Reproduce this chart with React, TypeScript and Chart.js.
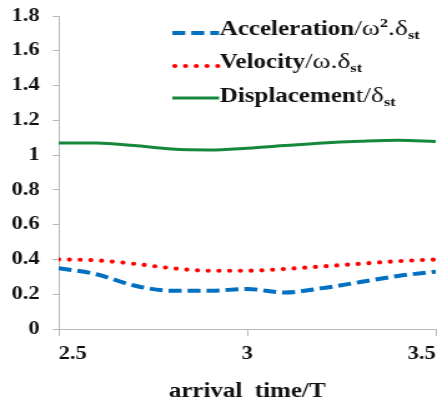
import React, { useEffect, useRef } from "react";
import { Chart, registerables } from "chart.js";

Chart.register(...registerables);

const arrivalTime = [2.5, 2.6, 2.7, 2.8, 2.9, 3.0, 3.1, 3.2, 3.3, 3.4, 3.5];
const acceleration = [0.35, 0.315, 0.25, 0.22, 0.22, 0.23, 0.21, 0.235, 0.27, 0.305, 0.33];
const velocity = [0.4, 0.395, 0.375, 0.35, 0.335, 0.335, 0.345, 0.36, 0.375, 0.39, 0.4];
const displacement = [1.07, 1.07, 1.055, 1.035, 1.03, 1.04, 1.055, 1.07, 1.08, 1.086, 1.078];

const BLUE = "#0070C0";
const RED = "#FF0000";
const GREEN = "#16883C";
const AXIS = "#B8B8B8";
const SERIF = "Liberation Serif";

// canvas is drawn narrower and displayed stretched horizontally, like the reference image
const CANVAS_W = 350;
const CANVAS_H = 406;
const VIEW_W = 437;

type Seg = { t: string; bold: boolean; size: number; dy: number };

const legendItems: { color: string; dash: number[]; cap: CanvasLineCap; width: number; segs: Seg[] }[] = [
  {
    color: BLUE, dash: [10.4, 4.8], cap: "butt", width: 4,
    segs: [
      { t: "Acceleration", bold: true, size: 20, dy: 0 },
      { t: "/ω", bold: false, size: 22, dy: 0 },
      { t: "2", bold: true, size: 13, dy: -8 },
      { t: ".δ", bold: false, size: 22, dy: 0 },
      { t: "st", bold: true, size: 13, dy: 4 },
    ],
  },
  {
    color: RED, dash: [0, 8.6], cap: "round", width: 4.2,
    segs: [
      { t: "Velocity", bold: true, size: 20, dy: 0 },
      { t: "/ω.δ", bold: false, size: 22, dy: 0 },
      { t: "st", bold: true, size: 13, dy: 4 },
    ],
  },
  {
    color: GREEN, dash: [], cap: "butt", width: 3,
    segs: [
      { t: "Displacemen", bold: true, size: 20, dy: 0 },
      { t: "t/δ", bold: false, size: 22, dy: 0 },
      { t: "st", bold: true, size: 13, dy: 4 },
    ],
  },
];

const legendPlugin = {
  id: "mathLegend",
  afterDraw(chart: any) {
    const ctx = chart.ctx as CanvasRenderingContext2D;
    const lineY = [33, 66, 98];
    const baseY = [35, 68, 102];
    legendItems.forEach((it, i) => {
      ctx.save();
      ctx.strokeStyle = it.color;
      ctx.lineWidth = it.width;
      ctx.lineCap = it.cap;
      ctx.setLineDash(it.dash);
      ctx.beginPath();
      ctx.moveTo(it.cap === "round" ? 140 : 138, lineY[i]);
      ctx.lineTo(175.5, lineY[i]);
      ctx.stroke();
      ctx.restore();
      ctx.save();
      ctx.fillStyle = "#111";
      ctx.textBaseline = "alphabetic";
      ctx.textAlign = "left";
      let x = 176;
      it.segs.forEach((s) => {
        ctx.font = `${s.bold ? "bold " : ""}${s.size}px ${SERIF}`;
        ctx.fillText(s.t, x, baseY[i] + s.dy);
        x += ctx.measureText(s.t).width;
      });
      ctx.restore();
    });
  },
};

const fmt = (v: any) => String(Number(Number(v).toFixed(1)));

export default function App() {
  const ref = useRef<HTMLCanvasElement | null>(null);
  useEffect(() => {
    if (!ref.current) return;
    const toPts = (ys: number[]) => ys.map((y, i) => ({ x: arrivalTime[i], y }));
    const chart = new Chart(ref.current, {
      type: "line",
      data: {
        datasets: [
          {
            label: "Acceleration",
            data: toPts(acceleration),
            borderColor: BLUE,
            borderWidth: 4,
            borderDash: [10.4, 4.8],
            pointRadius: 0,
            cubicInterpolationMode: "monotone",
          },
          {
            label: "Velocity",
            data: toPts(velocity),
            borderColor: RED,
            borderWidth: 4.2,
            borderDash: [0, 8.6],
            borderCapStyle: "round",
            pointRadius: 0,
            cubicInterpolationMode: "monotone",
          },
          {
            label: "Displacement",
            data: toPts(displacement),
            borderColor: GREEN,
            borderWidth: 3,
            pointRadius: 0,
            cubicInterpolationMode: "monotone",
          },
        ],
      },
      plugins: [legendPlugin],
      options: {
        animation: false,
        responsive: false,
        devicePixelRatio: 1,
        layout: { padding: { left: 0, top: 16, right: 1, bottom: 0 } },
        plugins: { legend: { display: false }, tooltip: { enabled: false } },
        scales: {
          x: {
            type: "linear",
            min: 2.5,
            max: 3.5,
            afterFit: (s: any) => { s.height = 77; },
            ticks: {
              stepSize: 0.5,
              color: "#111",
              padding: 0,
              maxRotation: 0,
              align: "inner",
              callback: fmt,
              font: { family: SERIF, size: 18, weight: "bold", lineHeight: 2 },
            },
            grid: { drawOnChartArea: false, drawTicks: true, tickLength: 7, color: AXIS },
            border: { color: AXIS, width: 1 },
            title: {
              display: true,
              text: "arrival  time/T",
              color: "#111",
              font: { family: SERIF, size: 20, weight: "bold", lineHeight: 1.2 },
              padding: { top: 0, bottom: 2 },
            },
          },
          y: {
            min: 0,
            max: 1.8,
            afterFit: (s: any) => { s.width = 47; },
            ticks: {
              stepSize: 0.2,
              color: "#111",
              padding: 10.5,
              callback: fmt,
              font: { family: SERIF, size: 18, weight: "bold", lineHeight: 0.3 },
            },
            grid: { drawOnChartArea: false, drawTicks: true, tickLength: 4.8, color: AXIS },
            border: { color: AXIS, width: 1 },
          },
        },
      },
    } as any);
    return () => chart.destroy();
  }, []);
  return (
    <div style={{ position: "absolute", left: 0, top: 0, width: VIEW_W, height: CANVAS_H, overflow: "hidden", background: "#fff" }}>
      <canvas
        ref={ref}
        width={CANVAS_W}
        height={CANVAS_H}
        style={{ display: "block", width: `${VIEW_W}px`, height: `${CANVAS_H}px` }}
      />
    </div>
  );
}
